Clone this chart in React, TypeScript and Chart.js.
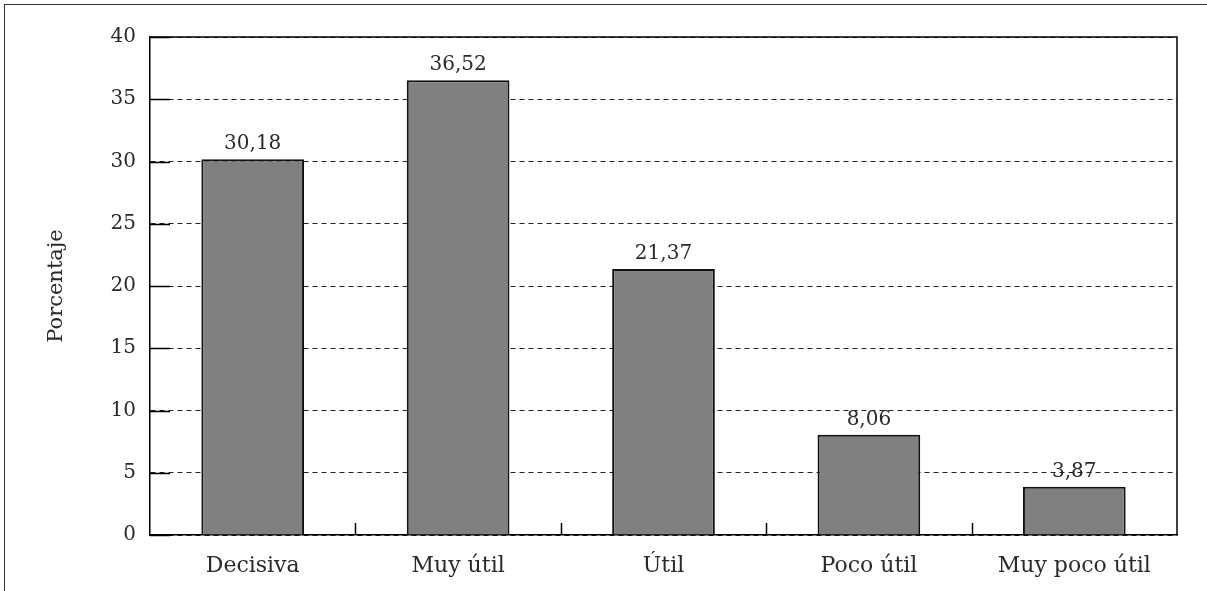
import React, { useEffect, useRef } from "react";
import { Chart, registerables } from "chart.js";

Chart.register(...registerables);

const categories = ["Decisiva", "Muy útil", "Útil", "Poco útil", "Muy poco útil"];
const values = [30.18, 36.52, 21.37, 8.06, 3.87];
const valueLabels = ["30,18", "36,52", "21,37", "8,06", "3,87"];
const yTicks = [0, 5, 10, 15, 20, 25, 30, 35, 40];
const yTitle = "Porcentaje";

const FONT = "'DejaVu Serif', serif";
const TEXT = "#2a2a2a";

const decorPlugin = {
  id: "decor",
  afterDatasetsDraw(chart: any) {
    const { ctx, chartArea, scales } = chart;
    const { left, right, top, bottom } = chartArea;
    ctx.save();
    ctx.strokeStyle = "#000";
    ctx.lineWidth = 1.5;
    ctx.setLineDash([]);
    yTicks.forEach((v) => {
      const y = Math.round(scales.y.getPixelForValue(v)) + 0.5;
      ctx.beginPath();
      ctx.moveTo(left, y);
      ctx.lineTo(left + 20, y);
      ctx.stroke();
    });
    const n = categories.length;
    const w = (right - left) / n;
    for (let i = 1; i < n; i++) {
      const x = Math.round(left + i * w) + 0.5;
      ctx.beginPath();
      ctx.moveTo(x, bottom);
      ctx.lineTo(x, bottom - 12);
      ctx.stroke();
    }
    ctx.beginPath();
    ctx.moveTo(left, top);
    ctx.lineTo(right, top);
    ctx.lineTo(right, bottom);
    ctx.stroke();
    ctx.fillStyle = TEXT;
    ctx.font = `20px ${FONT}`;
    ctx.textAlign = "center";
    ctx.textBaseline = "alphabetic";
    const meta = chart.getDatasetMeta(0);
    meta.data.forEach((bar: any, i: number) => {
      ctx.fillText(valueLabels[i], bar.x, bar.y - 10);
    });
    ctx.font = `21px ${FONT}`;
    ctx.translate(57, (top + bottom) / 2);
    ctx.rotate(-Math.PI / 2);
    ctx.textBaseline = "middle";
    ctx.fillText(yTitle, 0, 0);
    ctx.restore();
  },
};

export default function App() {
  const ref = useRef<HTMLCanvasElement>(null);
  useEffect(() => {
    const chart = new Chart(ref.current as HTMLCanvasElement, {
      type: "bar",
      data: {
        labels: categories,
        datasets: [
          {
            data: values,
            backgroundColor: "#808080",
            borderColor: "#111",
            borderWidth: 2,
            barPercentage: 0.5,
            categoryPercentage: 1,
          },
        ],
      },
      options: {
        responsive: false,
        animation: false,
        layout: { padding: { left: 0, top: 37, right: 30, bottom: 0 } },
        plugins: { legend: { display: false }, tooltip: { enabled: false } },
        scales: {
          x: {
            grid: { display: false },
            border: { display: true, color: "#000", width: 1.5 },
            ticks: { color: TEXT, font: { family: FONT, size: 22 }, padding: 10, maxRotation: 0 },
            afterFit: (s: any) => {
              s.height = 56;
            },
          },
          y: {
            min: 0,
            max: 40,
            afterBuildTicks: (s: any) => {
              s.ticks = yTicks.map((v) => ({ value: v }));
            },
            grid: { color: "#222", lineWidth: 1, drawTicks: false },
            border: { display: true, color: "#000", width: 1.5, dash: [5, 4] },
            ticks: { color: TEXT, font: { family: FONT, size: 20 }, padding: 14 },
            afterFit: (s: any) => {
              s.width = 150;
            },
          },
        },
      },
      plugins: [decorPlugin],
    });
    return () => chart.destroy();
  }, []);
  return (
    <div
      style={{
        position: "fixed",
        left: 0,
        top: 0,
        width: 1207,
        height: 591,
        overflow: "hidden",
        background: "#fff",
      }}
    >
      <div
        style={{
          position: "absolute",
          left: 4,
          top: 4,
          width: 1400,
          height: 800,
          border: "1.5px solid #333",
        }}
      />
      <canvas ref={ref} width={1207} height={591} style={{ position: "absolute", left: 0, top: 0 }} />
    </div>
  );
}
